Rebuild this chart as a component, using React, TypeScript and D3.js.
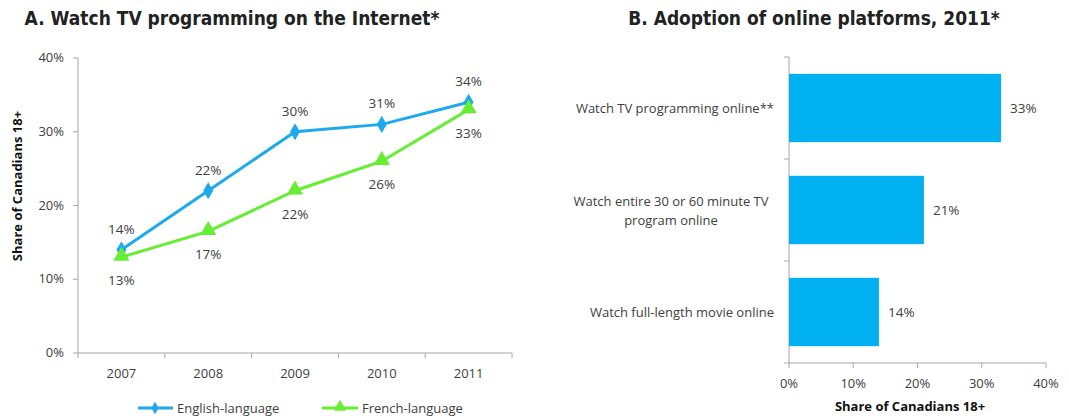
import { useEffect, useRef } from "react";
import * as d3 from "d3";

const years = ["2007", "2008", "2009", "2010", "2011"];
const englishValues = [14, 22, 30, 31, 34];
const frenchValues = [13, 16.5, 22, 26, 33];
const englishLabels = ["14%", "22%", "30%", "31%", "34%"];
const frenchLabels = ["13%", "17%", "22%", "26%", "33%"];
const lineTicks = [0, 10, 20, 30, 40];

const platforms = [
  ["Watch TV programming online**"],
  ["Watch entire 30 or 60 minute TV", "program online"],
  ["Watch full-length movie online"],
];
const platformValues = [33, 21, 14];
const barTicks = [0, 10, 20, 30, 40];

const BLUE = "#1ea9ec";
const GREEN = "#66ee33";
const BAR = "#00b0f0";
const AXIS = "#a6a6a6";
const TEXT = "#404040";
const FONT = "'Open Sans', 'Noto Sans', sans-serif";
const TITLE_FONT = "'DejaVu Sans Condensed', 'Liberation Sans Narrow', 'Noto Sans', sans-serif";

export default function App() {
  const svgRef = useRef<SVGSVGElement>(null);

  useEffect(() => {
    if (!svgRef.current) return;
    const svg = d3.select(svgRef.current);
    svg.selectAll("*").remove();

    // ---------- Panel A: line chart ----------
    const x = d3.scaleBand().domain(years).range([78, 512]);
    const y = d3.scaleLinear().domain([0, 40]).range([353, 58]);
    const cx = (d: string) => (x(d) as number) + x.bandwidth() / 2;

    svg.append("text")
      .attr("x", 232).attr("y", 25)
      .attr("text-anchor", "middle")
      .attr("font-family", TITLE_FONT).attr("font-weight", "bold")
      .attr("font-size", 19).attr("fill", "#222")
      .text("A. Watch TV programming on the Internet*");

    const a = svg.append("g");
    a.append("line").attr("x1", 78).attr("x2", 78).attr("y1", y(40)).attr("y2", y(0))
      .attr("stroke", AXIS);
    a.append("line").attr("x1", 78).attr("x2", 512).attr("y1", y(0)).attr("y2", y(0))
      .attr("stroke", AXIS);
    lineTicks.forEach(t => {
      a.append("line").attr("x1", 73).attr("x2", 78).attr("y1", y(t)).attr("y2", y(t))
        .attr("stroke", AXIS);
      a.append("text").attr("x", 64).attr("y", y(t) + 4).attr("text-anchor", "end")
        .attr("font-family", FONT).attr("font-size", 13).attr("fill", TEXT)
        .text(`${t}%`);
    });
    const bounds = [...years.map(d => x(d) as number), 512];
    bounds.forEach(b => {
      a.append("line").attr("x1", b).attr("x2", b).attr("y1", y(0)).attr("y2", y(0) + 5)
        .attr("stroke", AXIS);
    });
    years.forEach(d => {
      a.append("text").attr("x", cx(d)).attr("y", 378).attr("text-anchor", "middle")
        .attr("font-family", FONT).attr("font-size", 13).attr("fill", TEXT).text(d);
    });

    a.append("text")
      .attr("transform", `translate(22,186) rotate(-90)`)
      .attr("text-anchor", "middle")
      .attr("font-family", FONT).attr("font-weight", "bold")
      .attr("font-size", 13).attr("fill", "#111")
      .text("Share of Canadians 18+");

    const line = d3.line<number>().x((_, i) => cx(years[i])).y(v => y(v));

    a.append("path").datum(englishValues).attr("d", line)
      .attr("fill", "none").attr("stroke", BLUE).attr("stroke-width", 3);
    a.append("path").datum(frenchValues).attr("d", line)
      .attr("fill", "none").attr("stroke", GREEN).attr("stroke-width", 3);

    const diamond = d3.symbol(d3.symbolDiamond, 85);
    const triangle = d3.symbol(d3.symbolTriangle, 115);

    englishValues.forEach((v, i) => {
      a.append("path").attr("d", diamond())
        .attr("transform", `translate(${cx(years[i])},${y(v)})`).attr("fill", BLUE);
    });
    frenchValues.forEach((v, i) => {
      a.append("path").attr("d", triangle())
        .attr("transform", `translate(${cx(years[i])},${y(v) - 1})`).attr("fill", GREEN);
    });

    englishValues.forEach((v, i) => {
      a.append("text").attr("x", cx(years[i])).attr("y", y(v) - 16)
        .attr("text-anchor", "middle")
        .attr("font-family", FONT).attr("font-size", 13.5).attr("fill", TEXT)
        .text(englishLabels[i]);
    });
    frenchValues.forEach((v, i) => {
      a.append("text").attr("x", cx(years[i])).attr("y", y(v) + 28)
        .attr("text-anchor", "middle")
        .attr("font-family", FONT).attr("font-size", 13.5).attr("fill", TEXT)
        .text(frenchLabels[i]);
    });

    // legend
    const leg = a.append("g");
    leg.append("line").attr("x1", 138).attr("x2", 173).attr("y1", 408).attr("y2", 408)
      .attr("stroke", BLUE).attr("stroke-width", 3);
    leg.append("path").attr("d", d3.symbol(d3.symbolDiamond, 45)())
      .attr("transform", "translate(155,408)").attr("fill", BLUE);
    leg.append("text").attr("x", 177).attr("y", 413)
      .attr("font-family", FONT).attr("font-size", 13).attr("fill", TEXT)
      .text("English-language");
    leg.append("line").attr("x1", 322).attr("x2", 358).attr("y1", 408).attr("y2", 408)
      .attr("stroke", GREEN).attr("stroke-width", 3);
    leg.append("path").attr("d", d3.symbol(d3.symbolTriangle, 70)())
      .attr("transform", "translate(340,407)").attr("fill", GREEN);
    leg.append("text").attr("x", 362).attr("y", 413)
      .attr("font-family", FONT).attr("font-size", 13).attr("fill", TEXT)
      .text("French-language");

    // ---------- Panel B: bar chart ----------
    svg.append("text")
      .attr("x", 814).attr("y", 25)
      .attr("text-anchor", "middle")
      .attr("font-family", TITLE_FONT).attr("font-weight", "bold")
      .attr("font-size", 19).attr("fill", "#222")
      .text("B. Adoption of online platforms, 2011*");

    const bx = d3.scaleLinear().domain([0, 40]).range([789, 1046]);
    const by = d3.scaleBand<number>().domain(d3.range(platforms.length))
      .range([57, 363]).paddingInner(0.33).paddingOuter(0.165);
    const step = by.step();
    const b = svg.append("g");

    b.append("line").attr("x1", bx(0)).attr("x2", bx(0)).attr("y1", 57).attr("y2", 363)
      .attr("stroke", AXIS);
    b.append("line").attr("x1", bx(0)).attr("x2", bx(40)).attr("y1", 363).attr("y2", 363)
      .attr("stroke", AXIS);
    [0, 1, 2, 3].forEach(i => {
      const yy = 57 + i * step;
      b.append("line").attr("x1", bx(0) - 5).attr("x2", bx(0)).attr("y1", yy).attr("y2", yy)
        .attr("stroke", AXIS);
    });
    barTicks.forEach(t => {
      b.append("line").attr("x1", bx(t)).attr("x2", bx(t)).attr("y1", 363).attr("y2", 368)
        .attr("stroke", AXIS);
      b.append("text").attr("x", bx(t)).attr("y", 388).attr("text-anchor", "middle")
        .attr("font-family", FONT).attr("font-size", 13).attr("fill", TEXT)
        .text(`${t}%`);
    });
    b.append("text").attr("x", 910).attr("y", 411).attr("text-anchor", "middle")
      .attr("font-family", FONT).attr("font-weight", "bold")
      .attr("font-size", 13).attr("fill", "#111")
      .text("Share of Canadians 18+");

    platformValues.forEach((v, i) => {
      const top = by(i) as number;
      b.append("rect").attr("x", bx(0)).attr("y", top)
        .attr("width", bx(v) - bx(0)).attr("height", by.bandwidth())
        .attr("fill", BAR);
      b.append("text").attr("x", bx(v) + 9).attr("y", top + by.bandwidth() / 2 + 5)
        .attr("font-family", FONT).attr("font-size", 13.5).attr("fill", TEXT)
        .text(`${v}%`);

      const lines = platforms[i];
      const mid = top + by.bandwidth() / 2;
      const multi = lines.length > 1;
      lines.forEach((l, j) => {
        b.append("text")
          .attr("x", multi ? 671 : 774)
          .attr("y", mid + 5 + (j - (lines.length - 1) / 2) * 19)
          .attr("text-anchor", multi ? "middle" : "end")
          .attr("font-family", FONT).attr("font-size", 13).attr("fill", TEXT)
          .text(l);
      });
    });
  }, []);

  return (
    <svg ref={svgRef} width={1069} height={419}
      style={{ display: "block", position: "absolute", left: 0, top: 0, background: "#fff" }} />
  );
}
